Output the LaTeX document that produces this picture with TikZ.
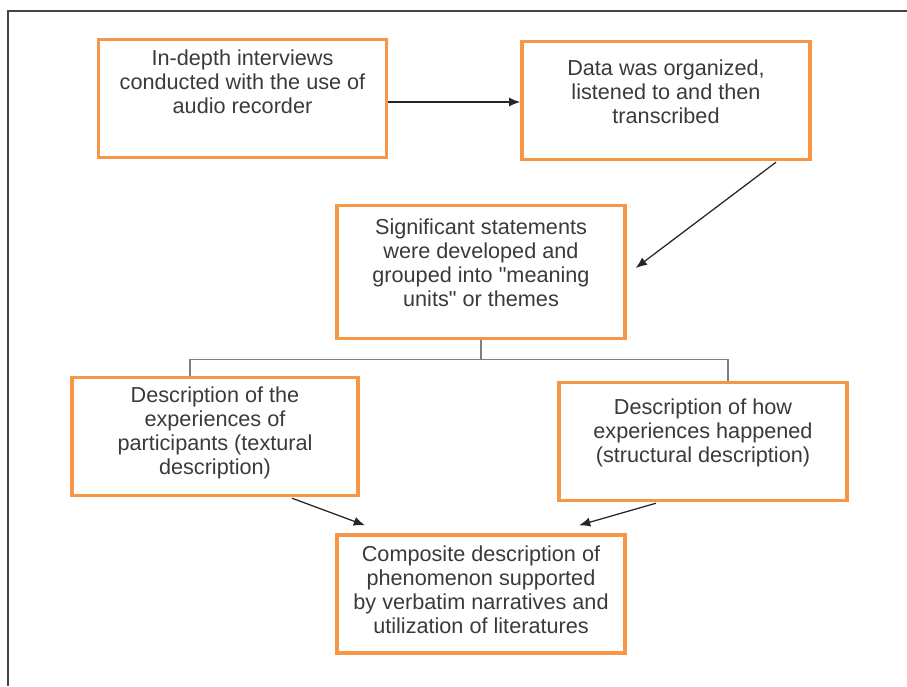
\documentclass[tikz,border=0pt]{standalone}
\usepackage{fontspec}
\setmainfont{Liberation Sans}
\usetikzlibrary{calc,arrows.meta}
\definecolor{boxorange}{HTML}{F79646}
\definecolor{inkgray}{HTML}{3A3A3A}
\definecolor{framegray}{HTML}{444444}

\begin{document}
\begin{tikzpicture}[x = 0.025cm, y = -0.025cm,
  stage/.style = {draw = boxorange, line width = 2.4pt, minimum width = 7.2cm, minimum height = 2.95cm, inner sep = 0pt},
  words/.style = {text = inkgray, align = center, inner sep = 0pt, font = \fontsize{15.4}{17.1}\selectfont},
  arrow/.style = {-{Latex[length = 8pt, width = 6.5pt]}, line width = 0.9pt, black!85},
  branch/.style = {line width = 0.9pt, gray}]
\useasboundingbox (0,0) rectangle (907,686);
\draw[framegray, line width = 1.4pt] (907,11) -- (8,11) -- (8,686);

\node[stage] (interviews) at (242.5,98.5) {};
\node[words] (interviewsText) at (242.5,82) {In-depth interviews\\ conducted with the use of\\ audio recorder};
\node[stage] (data) at (666,100.5) {};
\node[words] (dataText) at (666,92) {Data was organized,\\ listened to and then\\ transcribed};
\node[stage, minimum height = 3.33cm] (themes) at (481,272) {};
\node[words] (themesText) at (481,263) {Significant statements\\ were developed and\\ grouped into \textquotedbl meaning\\ units\textquotedbl{} or themes};
\node[stage, minimum width = 7.15cm] (textural) at (215,436.5) {};
\node[words] (texturalText) at (215,433) {Description of the\\ experiences of\\ participants (textural\\ description)};
\node[stage] (structural) at (703,441.5) {};
\node[words] (structuralText) at (703,433) {Description of how\\ experiences happened\\ (structural description)};
\node[stage] (composite) at (481,594) {};
\node[words] (compositeText) at (481,589.5) {Composite description of\\ phenomenon supported\\ by verbatim narratives and\\ utilization of literatures};

\draw[arrow] (interviews.east |- 0,102) -- (data.west |- 0,102);
\draw[arrow] ($(data.south)+(110,1)$) -- ($(themes.east)+(9,-4)$);
\draw[branch] (themes.south) -- ++(0,19) coordinate (fork);
\draw[branch] ($(textural.north)+(-25,0)$) |- (fork) -| ($(structural.north)+(25,0)$);
\draw[arrow] ($(textural.south)+(77,1)$) -- ($(composite.north)+(-116,-8)$);
\draw[arrow] ($(structural.south)+(-47,1)$) -- ($(composite.north)+(98,-8)$);
\end{tikzpicture}
\end{document}
